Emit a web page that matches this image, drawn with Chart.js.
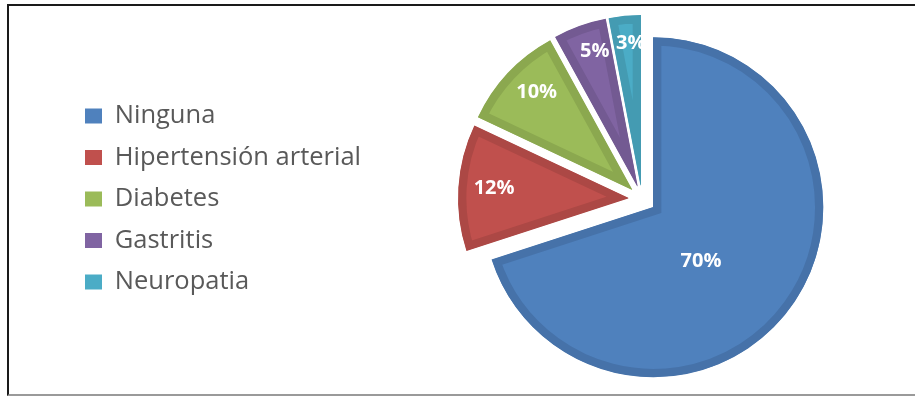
<!DOCTYPE html>
<html>
<head>
<meta charset="utf-8">
<script src="https://cdn.jsdelivr.net/npm/chart.js@4.4.1/dist/chart.umd.min.js"></script>
<style>
  html, body { margin: 0; padding: 0; background: #fff; }
  #wrap { position: relative; width: 915px; height: 396px; overflow: hidden; }
  #frame {
    position: absolute; left: 7px; top: 4px; width: 930px; height: 388px;
    border-top: 2px solid #1a1a1a; border-left: 2px solid #1a1a1a; border-bottom: 2px solid #9a9a9a;
  }
  #myChart { position: absolute; left: 0; top: 0; }
</style>
</head>
<body>
<div id="wrap">
  <div id="frame"></div>
  <canvas id="myChart" width="915" height="396"></canvas>
</div>
<script>
const labels = ['Ninguna', 'Hipertensión arterial', 'Diabetes', 'Gastritis', 'Neuropatia'];
const values = [70, 12, 10, 5, 3];

const fillColors = ['#4F81BD', '#C0504D', '#9BBB59', '#8064A2', '#4BACC6'];
const edgeColors = ['#4672A9', '#AC4845', '#8BA84F', '#735A92', '#449BB2'];
// where each percent label sits: [fraction of radius, angle nudge in degrees]
const labelSpots = [[0.425, 12.7], [0.79, 0.7], [0.8, 2.4], [0.83, 2.3], [0.835, 1.4]];

// pulls every slice out from the centre along its middle angle
const explodePlugin = {
    id: 'explode',
    afterDatasetUpdate(chart, args) {
        const ds = chart.data.datasets[args.index];
        const dist = ds.explode || 0;
        args.meta.data.forEach(arc => {
            const mid = (arc.startAngle + arc.endAngle) / 2;
            arc.x += Math.cos(mid) * dist;
            arc.y += Math.sin(mid) * dist;
        });
    }
};

const percentLabels = {
    id: 'percentLabels',
    afterDatasetsDraw(chart) {
        const ctx = chart.ctx;
        const meta = chart.getDatasetMeta(0);
        const total = values.reduce((a, b) => a + b, 0);
        ctx.save();
        ctx.fillStyle = '#ffffff';
        ctx.font = 'bold 20px "Open Sans"';
        ctx.textAlign = 'center';
        ctx.textBaseline = 'middle';
        meta.data.forEach((arc, i) => {
            const spot = labelSpots[i];
            const a = (arc.startAngle + arc.endAngle) / 2 + spot[1] * Math.PI / 180;
            const r = arc.outerRadius * spot[0];
            ctx.fillText(Math.round(values[i] / total * 100) + '%', arc.x + Math.cos(a) * r, arc.y + Math.sin(a) * r);
        });
        ctx.restore();
    }
};

new Chart(document.getElementById('myChart'), {
    type: 'pie',
    data: {
        labels: labels,
        datasets: [{
            data: values,
            backgroundColor: fillColors,
            borderColor: edgeColors,
            borderWidth: 8,
            borderAlign: 'inner',
            borderJoinStyle: 'miter',
            hoverOffset: 0,
            radius: 170,
            explode: 14
        }]
    },
    options: {
        responsive: false,
        animation: false,
        events: [],
        layout: { padding: { left: 69, right: 2, top: 10, bottom: 8 } },
        plugins: {
            tooltip: { enabled: false },
            legend: {
                position: 'left',
                labels: {
                    boxWidth: 17,
                    boxHeight: 15,
                    padding: 16,
                    color: '#595959',
                    font: { family: '"Open Sans"', size: 25.5 },
                    generateLabels(chart) {
                        const items = Chart.overrides.doughnut.plugins.legend.labels.generateLabels(chart);
                        return items.map(it => Object.assign(it, { lineWidth: 0, strokeStyle: it.fillStyle }));
                    }
                }
            }
        }
    },
    plugins: [explodePlugin, percentLabels]
});
</script>
</body>
</html>
